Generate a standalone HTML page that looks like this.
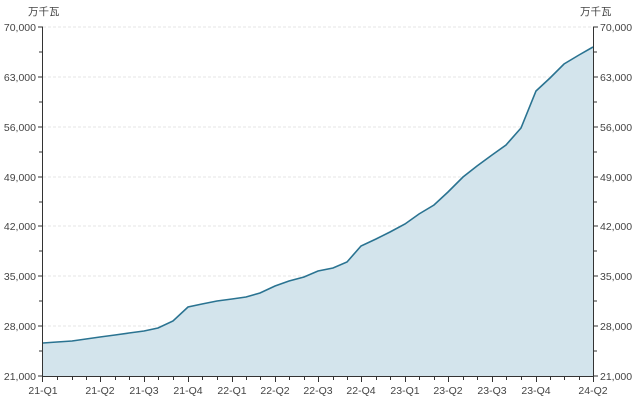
<!DOCTYPE html>
<html><head><meta charset="utf-8"><style>body{margin:0;background:#fff}svg{display:block}text{font-family:"Liberation Sans","Noto Sans CJK SC",sans-serif;font-size:10.5px;fill:#444}</style></head><body>
<svg width="640" height="405" viewBox="0 0 640 405" xmlns="http://www.w3.org/2000/svg">
<g stroke="#e6e6e6" stroke-dasharray="3,2">
<line x1="43" x2="593" y1="27" y2="27"/><line x1="43" x2="593" y1="77" y2="77"/><line x1="43" x2="593" y1="127" y2="127"/><line x1="43" x2="593" y1="177" y2="177"/><line x1="43" x2="593" y1="226" y2="226"/><line x1="43" x2="593" y1="276" y2="276"/><line x1="43" x2="593" y1="326" y2="326"/>
</g>
<path d="M43,343 L57,342 72,341 86,339 100,337 115,335 129,333 144,331 158,328 173,321 188,307 202,304 217,301 232,299 246,297 260,293 275,286 289,281 304,277 318,271 333,268 347,262 361,246 376,239 390,232 405,224 419,214 434,205 448,192 463,177 477,166 492,155 506,145 521,128 536,91 550,78 564,64 579,55 593,47 L593,376 L43,376Z" fill="#d3e4ec"/>
<path d="M43,343 L57,342 72,341 86,339 100,337 115,335 129,333 144,331 158,328 173,321 188,307 202,304 217,301 232,299 246,297 260,293 275,286 289,281 304,277 318,271 333,268 347,262 361,246 376,239 390,232 405,224 419,214 434,205 448,192 463,177 477,166 492,155 506,145 521,128 536,91 550,78 564,64 579,55 593,47" fill="none" stroke="#2a7391" stroke-width="1.6"/>
<g stroke="#333" stroke-width="1" fill="none">
<line x1="42.5" y1="27" x2="42.5" y2="376"/><line x1="593.5" y1="27" x2="593.5" y2="376"/><line x1="42" y1="376.5" x2="594" y2="376.5"/>
<path d="M38,27H43M38,77H43M38,127H43M38,177H43M38,226H43M38,276H43M38,326H43M38,376H43M39,52H43M39,102H43M39,152H43M39,202H43M39,251H43M39,301H43M39,351H43"/>
<path d="M593,27H598M593,77H598M593,127H598M593,177H598M593,226H598M593,276H598M593,326H598M593,376H598M593,52H597M593,102H597M593,152H597M593,202H597M593,251H597M593,301H597M593,351H597"/>
<path id="tk" d="M57.5,376v4M72.5,376v4M86.5,376v4M100.5,376v6M115.5,376v4M129.5,376v4M144.5,376v6M158.5,376v4M173.5,376v4M188.5,376v6M202.5,376v4M217.5,376v4M232.5,376v6M246.5,376v4M260.5,376v4M275.5,376v6M289.5,376v4M304.5,376v4M318.5,376v6M333.5,376v4M347.5,376v4M361.5,376v6M376.5,376v4M390.5,376v4M405.5,376v6M419.5,376v4M434.5,376v4M448.5,376v6M463.5,376v4M477.5,376v4M492.5,376v6M506.5,376v4M521.5,376v4M536.5,376v6M550.5,376v4M564.5,376v4M579.5,376v4M42.5,376v6M593.5,376v6"/>
</g>
<g text-anchor="end">
<text x="36" y="31">70,000</text><text x="36" y="81">63,000</text><text x="36" y="131">56,000</text><text x="36" y="181">49,000</text><text x="36" y="230">42,000</text><text x="36" y="280">35,000</text><text x="36" y="330">28,000</text><text x="36" y="380">21,000</text>
</g>
<text x="28" y="15">万千瓦</text><text x="580" y="15">万千瓦</text>
<g>
<text x="600" y="31">70,000</text><text x="600" y="81">63,000</text><text x="600" y="131">56,000</text><text x="600" y="181">49,000</text><text x="600" y="230">42,000</text><text x="600" y="280">35,000</text><text x="600" y="330">28,000</text><text x="600" y="380">21,000</text>
</g>
<g text-anchor="middle">
<text x="43" y="394">21-Q1</text><text x="100" y="394">21-Q2</text><text x="144" y="394">21-Q3</text><text x="188" y="394">21-Q4</text><text x="232" y="394">22-Q1</text><text x="275" y="394">22-Q2</text><text x="318" y="394">22-Q3</text><text x="361" y="394">22-Q4</text><text x="405" y="394">23-Q1</text><text x="448" y="394">23-Q2</text><text x="492" y="394">23-Q3</text><text x="536" y="394">23-Q4</text><text x="593" y="394">24-Q2</text>
</g>
</svg>
</body></html>
